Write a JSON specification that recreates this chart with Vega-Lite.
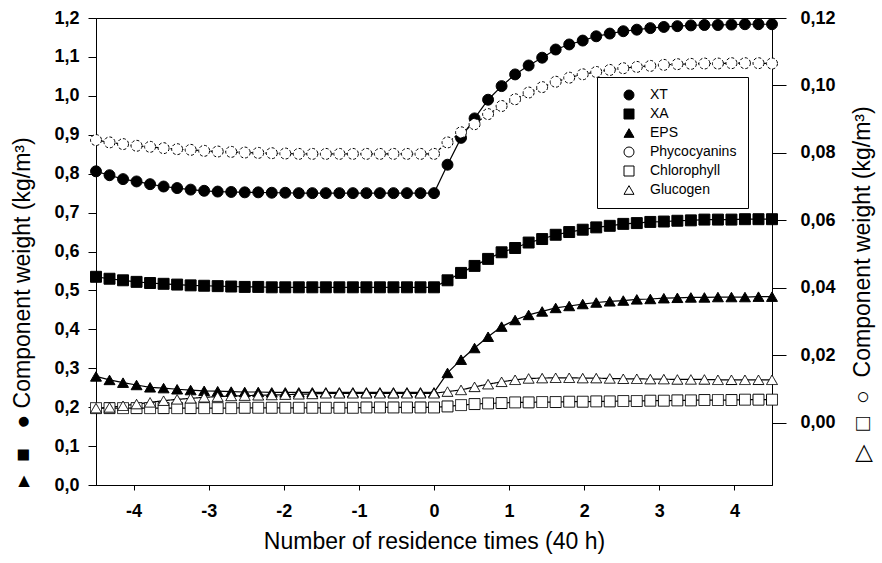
{
"$schema": "https://vega.github.io/schema/vega-lite/v6.json",
"width": 676, "height": 467,
"autosize": {"type": "none"},
"padding": {"left": 96, "top": 18, "right": 110, "bottom": 78},
"background": "white",
"config": {
  "font": "Liberation Sans",
  "view": {"stroke": "black", "strokeWidth": 1},
  "axis": {"domainColor": "black", "tickColor": "black", "labelColor": "black", "titleColor": "black", "labelFont": "Liberation Sans", "labelFontSize": 18, "labelFontWeight": "bold", "titleFont": "Liberation Sans", "titleFontSize": 23, "titleFontWeight": "normal", "grid": false}
},
"data": {"values": [
{"s":"XT","t":-4.5,"v":0.806},{"s":"XT","t":-4.32,"v":0.796},{"s":"XT","t":-4.14,"v":0.786},{"s":"XT","t":-3.96,"v":0.78},{"s":"XT","t":-3.78,"v":0.773},{"s":"XT","t":-3.6,"v":0.767},{"s":"XT","t":-3.42,"v":0.763},{"s":"XT","t":-3.24,"v":0.759},{"s":"XT","t":-3.06,"v":0.756},{"s":"XT","t":-2.88,"v":0.754},{"s":"XT","t":-2.7,"v":0.753},{"s":"XT","t":-2.52,"v":0.752},{"s":"XT","t":-2.34,"v":0.752},{"s":"XT","t":-2.16,"v":0.751},{"s":"XT","t":-1.98,"v":0.751},{"s":"XT","t":-1.8,"v":0.75},{"s":"XT","t":-1.62,"v":0.75},{"s":"XT","t":-1.44,"v":0.75},{"s":"XT","t":-1.26,"v":0.75},{"s":"XT","t":-1.08,"v":0.75},{"s":"XT","t":-0.9,"v":0.75},{"s":"XT","t":-0.72,"v":0.75},{"s":"XT","t":-0.54,"v":0.75},{"s":"XT","t":-0.36,"v":0.75},{"s":"XT","t":-0.18,"v":0.75},{"s":"XT","t":0,"v":0.75},
{"s":"XT","t":0.18,"v":0.823},{"s":"XT","t":0.36,"v":0.892},{"s":"XT","t":0.54,"v":0.942},{"s":"XT","t":0.72,"v":0.99},{"s":"XT","t":0.9,"v":1.025},{"s":"XT","t":1.08,"v":1.055},{"s":"XT","t":1.26,"v":1.078},{"s":"XT","t":1.44,"v":1.098},{"s":"XT","t":1.62,"v":1.119},{"s":"XT","t":1.8,"v":1.132},{"s":"XT","t":1.98,"v":1.142},{"s":"XT","t":2.16,"v":1.153},{"s":"XT","t":2.34,"v":1.16},{"s":"XT","t":2.52,"v":1.166},{"s":"XT","t":2.7,"v":1.17},{"s":"XT","t":2.88,"v":1.174},{"s":"XT","t":3.06,"v":1.177},{"s":"XT","t":3.24,"v":1.179},{"s":"XT","t":3.42,"v":1.181},{"s":"XT","t":3.6,"v":1.182},{"s":"XT","t":3.78,"v":1.182},{"s":"XT","t":3.96,"v":1.183},{"s":"XT","t":4.14,"v":1.184},{"s":"XT","t":4.32,"v":1.184},{"s":"XT","t":4.5,"v":1.184},
{"s":"XA","t":-4.5,"v":0.535},{"s":"XA","t":-4.32,"v":0.53},{"s":"XA","t":-4.14,"v":0.526},{"s":"XA","t":-3.96,"v":0.522},{"s":"XA","t":-3.78,"v":0.519},{"s":"XA","t":-3.6,"v":0.517},{"s":"XA","t":-3.42,"v":0.515},{"s":"XA","t":-3.24,"v":0.513},{"s":"XA","t":-3.06,"v":0.512},{"s":"XA","t":-2.88,"v":0.511},{"s":"XA","t":-2.7,"v":0.51},{"s":"XA","t":-2.52,"v":0.509},{"s":"XA","t":-2.34,"v":0.509},{"s":"XA","t":-2.16,"v":0.508},{"s":"XA","t":-1.98,"v":0.508},{"s":"XA","t":-1.8,"v":0.508},{"s":"XA","t":-1.62,"v":0.508},{"s":"XA","t":-1.44,"v":0.508},{"s":"XA","t":-1.26,"v":0.508},{"s":"XA","t":-1.08,"v":0.508},{"s":"XA","t":-0.9,"v":0.508},{"s":"XA","t":-0.72,"v":0.508},{"s":"XA","t":-0.54,"v":0.508},{"s":"XA","t":-0.36,"v":0.508},{"s":"XA","t":-0.18,"v":0.508},{"s":"XA","t":0,"v":0.508},
{"s":"XA","t":0.18,"v":0.526},{"s":"XA","t":0.36,"v":0.545},{"s":"XA","t":0.54,"v":0.563},{"s":"XA","t":0.72,"v":0.581},{"s":"XA","t":0.9,"v":0.598},{"s":"XA","t":1.08,"v":0.609},{"s":"XA","t":1.26,"v":0.623},{"s":"XA","t":1.44,"v":0.632},{"s":"XA","t":1.62,"v":0.643},{"s":"XA","t":1.8,"v":0.65},{"s":"XA","t":1.98,"v":0.656},{"s":"XA","t":2.16,"v":0.662},{"s":"XA","t":2.34,"v":0.666},{"s":"XA","t":2.52,"v":0.671},{"s":"XA","t":2.7,"v":0.673},{"s":"XA","t":2.88,"v":0.676},{"s":"XA","t":3.06,"v":0.677},{"s":"XA","t":3.24,"v":0.679},{"s":"XA","t":3.42,"v":0.68},{"s":"XA","t":3.6,"v":0.682},{"s":"XA","t":3.78,"v":0.682},{"s":"XA","t":3.96,"v":0.682},{"s":"XA","t":4.14,"v":0.683},{"s":"XA","t":4.32,"v":0.683},{"s":"XA","t":4.5,"v":0.683},
{"s":"EPS","t":-4.5,"v":0.279},{"s":"EPS","t":-4.32,"v":0.27},{"s":"EPS","t":-4.14,"v":0.263},{"s":"EPS","t":-3.96,"v":0.257},{"s":"EPS","t":-3.78,"v":0.251},{"s":"EPS","t":-3.6,"v":0.249},{"s":"EPS","t":-3.42,"v":0.246},{"s":"EPS","t":-3.24,"v":0.244},{"s":"EPS","t":-3.06,"v":0.242},{"s":"EPS","t":-2.88,"v":0.241},{"s":"EPS","t":-2.7,"v":0.24},{"s":"EPS","t":-2.52,"v":0.239},{"s":"EPS","t":-2.34,"v":0.239},{"s":"EPS","t":-2.16,"v":0.238},{"s":"EPS","t":-1.98,"v":0.238},{"s":"EPS","t":-1.8,"v":0.238},{"s":"EPS","t":-1.62,"v":0.238},{"s":"EPS","t":-1.44,"v":0.238},{"s":"EPS","t":-1.26,"v":0.238},{"s":"EPS","t":-1.08,"v":0.238},{"s":"EPS","t":-0.9,"v":0.238},{"s":"EPS","t":-0.72,"v":0.238},{"s":"EPS","t":-0.54,"v":0.238},{"s":"EPS","t":-0.36,"v":0.238},{"s":"EPS","t":-0.18,"v":0.238},{"s":"EPS","t":0,"v":0.238},
{"s":"EPS","t":0.18,"v":0.288},{"s":"EPS","t":0.36,"v":0.322},{"s":"EPS","t":0.54,"v":0.352},{"s":"EPS","t":0.72,"v":0.381},{"s":"EPS","t":0.9,"v":0.407},{"s":"EPS","t":1.08,"v":0.424},{"s":"EPS","t":1.26,"v":0.437},{"s":"EPS","t":1.44,"v":0.446},{"s":"EPS","t":1.62,"v":0.455},{"s":"EPS","t":1.8,"v":0.46},{"s":"EPS","t":1.98,"v":0.465},{"s":"EPS","t":2.16,"v":0.469},{"s":"EPS","t":2.34,"v":0.472},{"s":"EPS","t":2.52,"v":0.474},{"s":"EPS","t":2.7,"v":0.477},{"s":"EPS","t":2.88,"v":0.478},{"s":"EPS","t":3.06,"v":0.48},{"s":"EPS","t":3.24,"v":0.481},{"s":"EPS","t":3.42,"v":0.482},{"s":"EPS","t":3.6,"v":0.482},{"s":"EPS","t":3.78,"v":0.483},{"s":"EPS","t":3.96,"v":0.483},{"s":"EPS","t":4.14,"v":0.483},{"s":"EPS","t":4.32,"v":0.484},{"s":"EPS","t":4.5,"v":0.484},
{"s":"Phycocyanins","t":-4.5,"v":0.0838},{"s":"Phycocyanins","t":-4.32,"v":0.0831},{"s":"Phycocyanins","t":-4.14,"v":0.0826},{"s":"Phycocyanins","t":-3.96,"v":0.0821},{"s":"Phycocyanins","t":-3.78,"v":0.0818},{"s":"Phycocyanins","t":-3.6,"v":0.0814},{"s":"Phycocyanins","t":-3.42,"v":0.0811},{"s":"Phycocyanins","t":-3.24,"v":0.0809},{"s":"Phycocyanins","t":-3.06,"v":0.0806},{"s":"Phycocyanins","t":-2.88,"v":0.0804},{"s":"Phycocyanins","t":-2.7,"v":0.0803},{"s":"Phycocyanins","t":-2.52,"v":0.0801},{"s":"Phycocyanins","t":-2.34,"v":0.08},{"s":"Phycocyanins","t":-2.16,"v":0.0799},{"s":"Phycocyanins","t":-1.98,"v":0.0798},{"s":"Phycocyanins","t":-1.8,"v":0.0797},{"s":"Phycocyanins","t":-1.62,"v":0.0797},{"s":"Phycocyanins","t":-1.44,"v":0.0797},{"s":"Phycocyanins","t":-1.26,"v":0.0797},{"s":"Phycocyanins","t":-1.08,"v":0.0797},{"s":"Phycocyanins","t":-0.9,"v":0.0797},{"s":"Phycocyanins","t":-0.72,"v":0.0797},{"s":"Phycocyanins","t":-0.54,"v":0.0797},{"s":"Phycocyanins","t":-0.36,"v":0.0797},{"s":"Phycocyanins","t":-0.18,"v":0.0797},{"s":"Phycocyanins","t":0,"v":0.0797},
{"s":"Phycocyanins","t":0.18,"v":0.0831},{"s":"Phycocyanins","t":0.36,"v":0.0861},{"s":"Phycocyanins","t":0.54,"v":0.0885},{"s":"Phycocyanins","t":0.72,"v":0.0915},{"s":"Phycocyanins","t":0.9,"v":0.0939},{"s":"Phycocyanins","t":1.08,"v":0.0959},{"s":"Phycocyanins","t":1.26,"v":0.0979},{"s":"Phycocyanins","t":1.44,"v":0.0995},{"s":"Phycocyanins","t":1.62,"v":0.1011},{"s":"Phycocyanins","t":1.8,"v":0.1023},{"s":"Phycocyanins","t":1.98,"v":0.1033},{"s":"Phycocyanins","t":2.16,"v":0.104},{"s":"Phycocyanins","t":2.34,"v":0.1046},{"s":"Phycocyanins","t":2.52,"v":0.1051},{"s":"Phycocyanins","t":2.7,"v":0.1055},{"s":"Phycocyanins","t":2.88,"v":0.1058},{"s":"Phycocyanins","t":3.06,"v":0.1061},{"s":"Phycocyanins","t":3.24,"v":0.1063},{"s":"Phycocyanins","t":3.42,"v":0.1064},{"s":"Phycocyanins","t":3.6,"v":0.1065},{"s":"Phycocyanins","t":3.78,"v":0.1065},{"s":"Phycocyanins","t":3.96,"v":0.1066},{"s":"Phycocyanins","t":4.14,"v":0.1066},{"s":"Phycocyanins","t":4.32,"v":0.1066},{"s":"Phycocyanins","t":4.5,"v":0.1065},
{"s":"Chlorophyll","t":-4.5,"v":0.0043},{"s":"Chlorophyll","t":-4.32,"v":0.0043},{"s":"Chlorophyll","t":-4.14,"v":0.0043},{"s":"Chlorophyll","t":-3.96,"v":0.0043},{"s":"Chlorophyll","t":-3.78,"v":0.0043},{"s":"Chlorophyll","t":-3.6,"v":0.0043},{"s":"Chlorophyll","t":-3.42,"v":0.0043},{"s":"Chlorophyll","t":-3.24,"v":0.0043},{"s":"Chlorophyll","t":-3.06,"v":0.0043},{"s":"Chlorophyll","t":-2.88,"v":0.0043},{"s":"Chlorophyll","t":-2.7,"v":0.0043},{"s":"Chlorophyll","t":-2.52,"v":0.0044},{"s":"Chlorophyll","t":-2.34,"v":0.0044},{"s":"Chlorophyll","t":-2.16,"v":0.0044},{"s":"Chlorophyll","t":-1.98,"v":0.0044},{"s":"Chlorophyll","t":-1.8,"v":0.0044},{"s":"Chlorophyll","t":-1.62,"v":0.0044},{"s":"Chlorophyll","t":-1.44,"v":0.0044},{"s":"Chlorophyll","t":-1.26,"v":0.0044},{"s":"Chlorophyll","t":-1.08,"v":0.0044},{"s":"Chlorophyll","t":-0.9,"v":0.0045},{"s":"Chlorophyll","t":-0.72,"v":0.0045},{"s":"Chlorophyll","t":-0.54,"v":0.0045},{"s":"Chlorophyll","t":-0.36,"v":0.0045},{"s":"Chlorophyll","t":-0.18,"v":0.0045},{"s":"Chlorophyll","t":0,"v":0.0045},
{"s":"Chlorophyll","t":0.18,"v":0.0048},{"s":"Chlorophyll","t":0.36,"v":0.0052},{"s":"Chlorophyll","t":0.54,"v":0.0055},{"s":"Chlorophyll","t":0.72,"v":0.0057},{"s":"Chlorophyll","t":0.9,"v":0.0058},{"s":"Chlorophyll","t":1.08,"v":0.006},{"s":"Chlorophyll","t":1.26,"v":0.006},{"s":"Chlorophyll","t":1.44,"v":0.0061},{"s":"Chlorophyll","t":1.62,"v":0.0061},{"s":"Chlorophyll","t":1.8,"v":0.0062},{"s":"Chlorophyll","t":1.98,"v":0.0062},{"s":"Chlorophyll","t":2.16,"v":0.0063},{"s":"Chlorophyll","t":2.34,"v":0.0063},{"s":"Chlorophyll","t":2.52,"v":0.0064},{"s":"Chlorophyll","t":2.7,"v":0.0064},{"s":"Chlorophyll","t":2.88,"v":0.0065},{"s":"Chlorophyll","t":3.06,"v":0.0065},{"s":"Chlorophyll","t":3.24,"v":0.0066},{"s":"Chlorophyll","t":3.42,"v":0.0066},{"s":"Chlorophyll","t":3.6,"v":0.0067},{"s":"Chlorophyll","t":3.78,"v":0.0067},{"s":"Chlorophyll","t":3.96,"v":0.0067},{"s":"Chlorophyll","t":4.14,"v":0.0068},{"s":"Chlorophyll","t":4.32,"v":0.0068},{"s":"Chlorophyll","t":4.5,"v":0.0068},
{"s":"Glucogen","t":-4.5,"v":0.0043},{"s":"Glucogen","t":-4.32,"v":0.0045},{"s":"Glucogen","t":-4.14,"v":0.005},{"s":"Glucogen","t":-3.96,"v":0.0055},{"s":"Glucogen","t":-3.78,"v":0.006},{"s":"Glucogen","t":-3.6,"v":0.0065},{"s":"Glucogen","t":-3.42,"v":0.0069},{"s":"Glucogen","t":-3.24,"v":0.0072},{"s":"Glucogen","t":-3.06,"v":0.0075},{"s":"Glucogen","t":-2.88,"v":0.0077},{"s":"Glucogen","t":-2.7,"v":0.0079},{"s":"Glucogen","t":-2.52,"v":0.008},{"s":"Glucogen","t":-2.34,"v":0.0081},{"s":"Glucogen","t":-2.16,"v":0.0082},{"s":"Glucogen","t":-1.98,"v":0.0083},{"s":"Glucogen","t":-1.8,"v":0.0084},{"s":"Glucogen","t":-1.62,"v":0.0085},{"s":"Glucogen","t":-1.44,"v":0.0087},{"s":"Glucogen","t":-1.26,"v":0.0087},{"s":"Glucogen","t":-1.08,"v":0.0087},{"s":"Glucogen","t":-0.9,"v":0.0087},{"s":"Glucogen","t":-0.72,"v":0.0087},{"s":"Glucogen","t":-0.54,"v":0.0087},{"s":"Glucogen","t":-0.36,"v":0.0087},{"s":"Glucogen","t":-0.18,"v":0.0087},{"s":"Glucogen","t":0,"v":0.0087},
{"s":"Glucogen","t":0.18,"v":0.0092},{"s":"Glucogen","t":0.36,"v":0.0097},{"s":"Glucogen","t":0.54,"v":0.0106},{"s":"Glucogen","t":0.72,"v":0.0114},{"s":"Glucogen","t":0.9,"v":0.0121},{"s":"Glucogen","t":1.08,"v":0.0127},{"s":"Glucogen","t":1.26,"v":0.0131},{"s":"Glucogen","t":1.44,"v":0.0132},{"s":"Glucogen","t":1.62,"v":0.0133},{"s":"Glucogen","t":1.8,"v":0.0133},{"s":"Glucogen","t":1.98,"v":0.0132},{"s":"Glucogen","t":2.16,"v":0.0132},{"s":"Glucogen","t":2.34,"v":0.0131},{"s":"Glucogen","t":2.52,"v":0.013},{"s":"Glucogen","t":2.7,"v":0.013},{"s":"Glucogen","t":2.88,"v":0.0129},{"s":"Glucogen","t":3.06,"v":0.0129},{"s":"Glucogen","t":3.24,"v":0.0128},{"s":"Glucogen","t":3.42,"v":0.0128},{"s":"Glucogen","t":3.6,"v":0.0128},{"s":"Glucogen","t":3.78,"v":0.0127},{"s":"Glucogen","t":3.96,"v":0.0127},{"s":"Glucogen","t":4.14,"v":0.0127},{"s":"Glucogen","t":4.32,"v":0.0127},{"s":"Glucogen","t":4.5,"v":0.0127}
]},
"encoding": {
  "x": {"field": "t", "type": "quantitative", "scale": {"domain": [-4.5, 4.5], "nice": false, "zero": false},
        "axis": {"values": [-4, -3, -2, -1, 0, 1, 2, 3, 4], "labelExpr": "'' + datum.value", "tickSize": 5, "labelPadding": 12, "title": "Number of residence times (40 h)", "titlePadding": 10}}
},
"layer": [
  {
    "transform": [{"filter": {"field": "s", "oneOf": ["XT", "XA", "EPS"]}}],
    "encoding": {
      "y": {"field": "v", "type": "quantitative", "scale": {"domain": [0, 1.2], "nice": false, "zero": false},
            "axis": {"orient": "left", "values": [0, 0.1, 0.2, 0.3, 0.4, 0.5, 0.6, 0.7, 0.8, 0.9, 1.0, 1.1, 1.2], "labelExpr": "replace(format(datum.value, '.1f'), '.', ',')", "tickSize": 8, "labelPadding": 9,
                     "title": "▸\u00a0\u00a0■\u00a0\u00a0\u00a0●\u00a0Component weight (kg/m³)", "titleAngle": -90, "titleX": -74, "titleY": 468, "titleAlign": "left", "titleBaseline": "middle"}}
    },
    "layer": [
      {"mark": {"type": "line", "color": "black", "strokeWidth": 1.2}, "encoding": {"detail": {"field": "s"}}},
      {"mark": {"type": "point", "filled": true, "strokeWidth": 1, "opacity": 1, "size": 120},
       "encoding": {
         "shape": {"field": "s", "type": "nominal", "scale": {"domain": ["XT", "XA", "EPS", "Phycocyanins", "Chlorophyll", "Glucogen"], "range": ["circle", "square", "triangle-up", "circle", "square", "triangle-up"]},
                   "legend": {"title": null, "orient": "none", "legendX": 501, "legendY": 59, "fillColor": "white", "strokeColor": "black", "padding": 11, "labelFontSize": 14, "labelFont": "Liberation Sans", "labelColor": "black", "symbolSize": 100, "symbolStrokeWidth": 1, "rowPadding": 5, "labelOffset": 14, "symbolOffset": 14}},
         "fill": {"field": "s", "type": "nominal", "scale": {"domain": ["XT", "XA", "EPS", "Phycocyanins", "Chlorophyll", "Glucogen"], "range": ["black", "black", "black", "white", "white", "white"]}},
         "stroke": {"field": "s", "type": "nominal", "scale": {"domain": ["XT", "XA", "EPS", "Phycocyanins", "Chlorophyll", "Glucogen"], "range": ["black", "black", "black", "black", "black", "black"]}}
       }}
    ]
  },
  {
    "transform": [{"filter": {"field": "s", "oneOf": ["Phycocyanins", "Chlorophyll", "Glucogen"]}}],
    "encoding": {
      "y": {"field": "v", "type": "quantitative", "scale": {"domain": [-0.0185, 0.12], "nice": false, "zero": false},
            "axis": {"orient": "right", "values": [0, 0.02, 0.04, 0.06, 0.08, 0.1, 0.12], "labelExpr": "replace(format(datum.value, '.2f'), '.', ',')", "tickSize": 14, "labelPadding": 14,
                     "title": "▷\u00a0\u00a0□\u00a0\u00a0○\u00a0\u00a0Component weight (kg/m³)", "titleAngle": -90, "titleX": 90, "titleY": 443, "titleAlign": "left", "titleBaseline": "middle"}}
    },
    "layer": [
      {"mark": {"type": "line", "color": "black", "strokeWidth": 1.2},
       "encoding": {"detail": {"field": "s"}, "strokeDash": {"field": "s", "type": "nominal", "scale": {"domain": ["Phycocyanins", "Chlorophyll", "Glucogen"], "range": [[3, 2], [1, 0], [1, 0]]}, "legend": null}}},
      {"mark": {"type": "point", "filled": true, "strokeWidth": 1, "opacity": 1, "size": 120},
       "encoding": {
         "shape": {"field": "s", "type": "nominal", "scale": {"domain": ["XT", "XA", "EPS", "Phycocyanins", "Chlorophyll", "Glucogen"], "range": ["circle", "square", "triangle-up", "circle", "square", "triangle-up"]},
                   "legend": {"title": null, "orient": "none", "legendX": 501, "legendY": 59, "fillColor": "white", "strokeColor": "black", "padding": 11, "labelFontSize": 14, "labelFont": "Liberation Sans", "labelColor": "black", "symbolSize": 100, "symbolStrokeWidth": 1, "rowPadding": 5, "labelOffset": 14, "symbolOffset": 14}},
         "fill": {"field": "s", "type": "nominal", "scale": {"domain": ["XT", "XA", "EPS", "Phycocyanins", "Chlorophyll", "Glucogen"], "range": ["black", "black", "black", "white", "white", "white"]}},
         "stroke": {"field": "s", "type": "nominal", "scale": {"domain": ["XT", "XA", "EPS", "Phycocyanins", "Chlorophyll", "Glucogen"], "range": ["black", "black", "black", "black", "black", "black"]}},
         "strokeDash": {"field": "s", "type": "nominal", "scale": {"domain": ["Phycocyanins", "Chlorophyll", "Glucogen"], "range": [[3, 2], [1, 0], [1, 0]]}, "legend": null}
       }}
    ]
  }
],
"resolve": {"scale": {"y": "independent"}}
}
